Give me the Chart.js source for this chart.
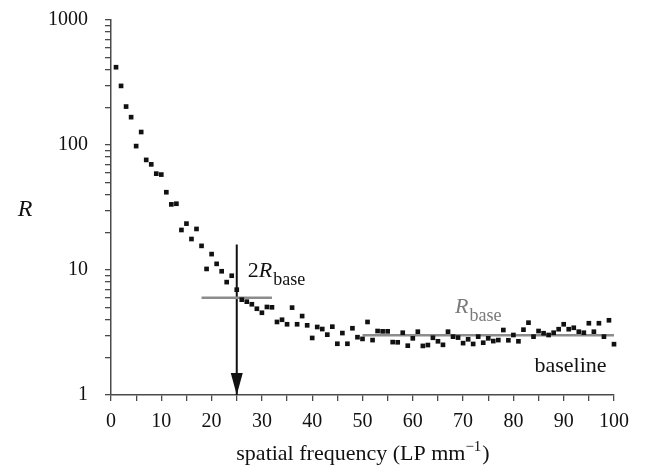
<!DOCTYPE html>
<html><head><meta charset="utf-8">
<script src="https://cdn.jsdelivr.net/npm/chart.js@4.4.1/dist/chart.umd.min.js"></script>
<style>html,body{margin:0;padding:0;background:#fff;}#wrap{width:646px;height:472px;position:relative;}</style>
</head><body><div id="wrap"><canvas id="c" width="646" height="472"></canvas></div>
<script>
// ---- data ----
const frequencies = [1,2,3,4,5,6,7,8,9,10,11,12,13,14,15,16,17,18,19,20,21,22,23,24,25,26,27,28,29,30,31,32,33,34,35,36,37,38,39,40,41,42,43,44,45,46,47,48,49,50,51,52,53,54,55,56,57,58,59,60,61,62,63,64,65,66,67,68,69,70,71,72,73,74,75,76,77,78,79,80,81,82,83,84,85,86,87,88,89,90,91,92,93,94,95,96,97,98,99,100];
const rValues = [419,297,203,167,98,127,76,70,59,58,41.9,33.5,33.9,20.9,23.5,17.7,21.3,15.6,10.2,13.4,11.2,9.77,8.0,9.0,6.96,5.79,5.58,5.32,4.9,4.55,5.06,5.03,3.84,4.0,3.68,5.0,3.68,4.28,3.61,2.86,3.5,3.37,3.04,3.52,2.57,3.13,2.57,3.42,2.9,2.81,3.84,2.75,3.25,3.23,3.23,2.65,2.64,3.15,2.48,2.84,3.21,2.47,2.51,2.87,2.69,2.52,3.21,2.93,2.88,2.6,2.79,2.56,2.93,2.62,2.84,2.7,2.75,3.31,2.74,3.02,2.69,3.33,3.79,2.93,3.25,3.12,3.02,3.15,3.36,3.68,3.36,3.45,3.21,3.15,3.75,3.21,3.75,2.93,3.96,2.55];
const xTicks = [0,5,10,15,20,25,30,35,40,45,50,55,60,65,70,75,80,85,90,95,100];
const xTickLabels = ['0','10','20','30','40','50','60','70','80','90','100'];
const yTicks = [1,2,3,4,5,6,7,8,9,10,20,30,40,50,60,70,80,90,100,200,300,400,500,600,700,800,900,1000];
const yTickLabels = ['1','10','100','1000'];
const rBase = 3;
const twoRBase = 6;
const twoRBaseSpan = [18, 32];
const baselineSpan = [50, 100];
const cutoffFrequency = 25;
const arrowTopValue = 16;

const SERIF = '"Liberation Serif", "DejaVu Serif", serif';
const AXIS = '#4a4a4a';
const GREY = '#8c8c8c';

const annotations = {
  id: 'annotations',
  afterDatasetsDraw(chart) {
    const {ctx, chartArea, scales: {x, y}} = chart;
    ctx.save();
    // arrowhead
    const ax = x.getPixelForValue(cutoffFrequency);
    const ay = y.getPixelForValue(1);
    ctx.fillStyle = '#111';
    ctx.beginPath();
    ctx.moveTo(ax, ay);
    ctx.lineTo(ax - 6, ay - 22);
    ctx.lineTo(ax + 6, ay - 22);
    ctx.closePath();
    ctx.fill();

    function sub(main, subTxt, px, py, color, mainSize, subSize, italicMain, prefix) {
      ctx.fillStyle = color;
      ctx.textBaseline = 'alphabetic';
      ctx.textAlign = 'left';
      let cx = px;
      if (prefix) {
        ctx.font = mainSize + 'px ' + SERIF;
        ctx.fillText(prefix, cx, py);
        cx += ctx.measureText(prefix).width;
      }
      ctx.font = (italicMain ? 'italic ' : '') + mainSize + 'px ' + SERIF;
      ctx.fillText(main, cx, py);
      cx += ctx.measureText(main).width;
      ctx.font = subSize + 'px ' + SERIF;
      ctx.fillText(subTxt, cx + 1, py + 8);
    }
    sub('R', 'base', x.getPixelForValue(27.2), y.getPixelForValue(8.8), '#111', 22, 18, true, '2');
    sub('R', 'base', x.getPixelForValue(68.4), y.getPixelForValue(4.53), '#7a7a7a', 22, 18, true, '');
    ctx.fillStyle = '#111';
    ctx.font = '22px ' + SERIF;
    ctx.fillText('baseline', x.getPixelForValue(84.2), y.getPixelForValue(1.53));

    // y-axis label
    ctx.font = 'italic 24px ' + SERIF;
    ctx.textAlign = 'center';
    ctx.textBaseline = 'middle';
    ctx.fillText('R', 25, 210);

    // x-axis title with superscript
    const t1 = 'spatial frequency (LP mm';
    const t2 = '\u22121';
    const t3 = ')';
    ctx.textAlign = 'left';
    ctx.textBaseline = 'alphabetic';
    ctx.font = '22px ' + SERIF;
    const w1 = ctx.measureText(t1).width, w3 = ctx.measureText(t3).width;
    ctx.font = '15px ' + SERIF;
    const w2 = ctx.measureText(t2).width;
    const cx = (chartArea.left + chartArea.right) / 2;
    let sx = cx - (w1 + w2 + w3) / 2;
    const by = 460;
    ctx.font = '22px ' + SERIF;
    ctx.fillText(t1, sx, by);
    ctx.font = '15px ' + SERIF;
    ctx.fillText(t2, sx + w1, by - 9);
    ctx.font = '22px ' + SERIF;
    ctx.fillText(t3, sx + w1 + w2 + 1, by);
    ctx.restore();
  }
};

new Chart(document.getElementById('c'), {
  type: 'scatter',
  data: {
    datasets: [
      {
        data: frequencies.map((f, i) => ({x: f, y: rValues[i]})),
        pointStyle: 'rect', pointRadius: 3.3, pointHoverRadius: 3.3,
        backgroundColor: '#111', borderWidth: 0, showLine: false, clip: false
      },
      {
        data: [{x: twoRBaseSpan[0], y: twoRBase}, {x: twoRBaseSpan[1], y: twoRBase}],
        showLine: true, borderColor: GREY, borderWidth: 2.5, pointRadius: 0
      },
      {
        data: [{x: baselineSpan[0], y: rBase}, {x: baselineSpan[1], y: rBase}],
        showLine: true, borderColor: GREY, borderWidth: 2.5, pointRadius: 0, clip: false
      },
      {
        data: [{x: cutoffFrequency, y: arrowTopValue}, {x: cutoffFrequency, y: 1}],
        showLine: true, borderColor: '#111', borderWidth: 2, pointRadius: 0
      }
    ]
  },
  options: {
    responsive: false, animation: false,
    devicePixelRatio: 1,
    layout: {padding: {top: 20, right: 32, left: 0, bottom: 0}},
    plugins: {legend: {display: false}, tooltip: {enabled: false}},
    scales: {
      x: {
        type: 'linear', min: 0, max: 100,
        afterBuildTicks: s => { s.ticks = xTicks.map(v => ({value: v})); },
        afterFit: s => { s.height = 77; s.paddingLeft = 0; s.paddingRight = 0; },
        ticks: {
          autoSkip: false, maxRotation: 0, padding: 9, color: '#111',
          font: {family: SERIF, size: 20},
          callback: v => (xTickLabels.includes(String(v)) ? String(v) : '')
        },
        grid: {drawOnChartArea: false, drawTicks: true, tickLength: 6, color: AXIS, lineWidth: 1.3},
        border: {color: AXIS, width: 1.5}
      },
      y: {
        type: 'logarithmic', min: 1, max: 1000,
        afterBuildTicks: s => { s.ticks = yTicks.map(v => ({value: v})); },
        afterFit: s => { s.width = 111; s.paddingTop = 0; s.paddingBottom = 0; },
        ticks: {
          autoSkip: false, padding: 17, color: '#111',
          font: {family: SERIF, size: 20},
          callback: v => (yTickLabels.includes(String(v)) ? String(v) : '')
        },
        grid: {drawOnChartArea: false, drawTicks: true, tickLength: 6, color: AXIS, lineWidth: 1.3},
        border: {color: AXIS, width: 1.5}
      }
    }
  },
  plugins: [annotations]
});
</script>
</body></html>
